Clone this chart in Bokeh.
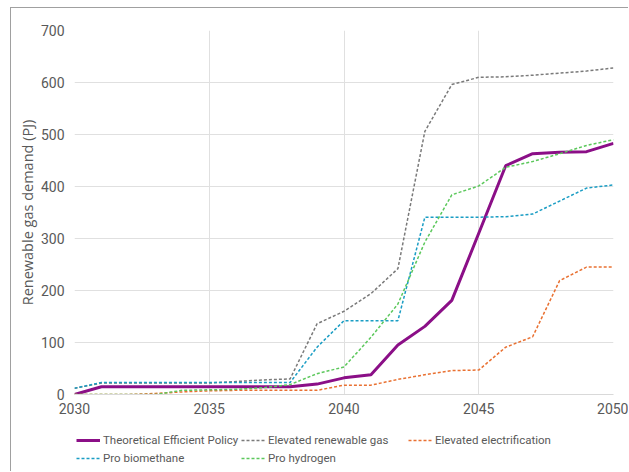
from bokeh.plotting import figure
from bokeh.models import Legend, LegendItem, FixedTicker, Range1d
from bokeh.layouts import column
from bokeh.embed import file_html
from bokeh.resources import INLINE

years = list(range(2030, 2051))

theoretical = [0, 15, 15, 15, 15, 15, 15, 15, 15, 20, 32, 38, 95, 131, 181, 310, 440, 463, 466, 467, 483]
elevated_gas = [12, 22, 22, 22, 22, 22, 25, 28, 30, 136, 160, 194, 242, 506, 596, 610, 611, 614, 618, 622, 628]
elevated_elec = [0, 0, 0, 2, 5, 7, 8, 8, 8, 8, 18, 18, 29, 38, 46, 47, 91, 111, 219, 245, 245]
pro_biomethane = [12, 23, 23, 23, 23, 23, 23, 23, 23, 91, 142, 142, 142, 341, 341, 341, 342, 347, 372, 397, 403]
pro_hydrogen = [0, 0, 0, 0, 8, 9, 10, 13, 19, 40, 53, 110, 174, 293, 384, 401, 437, 448, 463, 479, 490]

series_names = ["Theoretical Efficient Policy", "Elevated renewable gas", "Elevated electrification",
                "Pro biomethane", "Pro hydrogen"]
series_values = [theoretical, elevated_gas, elevated_elec, pro_biomethane, pro_hydrogen]

x_ticks = [2030, 2035, 2040, 2045, 2050]
y_ticks = [0, 100, 200, 300, 400, 500, 600, 700]

TFONT = "Roboto"
AFONT = "Open Sans"
LFONT = "Roboto"
TXT = "#595959"
styles = [
    dict(line_color="#8B0F87", line_width=3),
    dict(line_color="#7a7a7a", line_width=1.5, line_dash="3 2"),
    dict(line_color="#E97132", line_width=1.5, line_dash="3 2"),
    dict(line_color="#1A9DC4", line_width=1.5, line_dash="3 2"),
    dict(line_color="#5CC85C", line_width=1.5, line_dash="3 2"),
]

W = 617
p = figure(width=W, height=413, output_backend="svg", toolbar_location=None,
           x_range=Range1d(2030, 2050), y_range=Range1d(0, 700),
           min_border_left=63, min_border_right=15, min_border_top=22, min_border_bottom=27)
p.outline_line_color = None
p.border_fill_color = "white"

p.xaxis.ticker = FixedTicker(ticks=x_ticks)
p.yaxis.ticker = FixedTicker(ticks=y_ticks)
for ax in (p.xaxis[0], p.yaxis[0]):
    ax.major_label_text_font = TFONT
    ax.major_label_text_font_size = "14px"
    ax.major_label_text_color = TXT
    ax.major_tick_line_color = None
    ax.minor_tick_line_color = None
    ax.major_tick_out = 0
    ax.major_tick_in = 0
    ax.minor_tick_out = 0
    ax.minor_tick_in = 0
p.xaxis.axis_line_color = "#d9d9d9"
p.yaxis.axis_line_color = None
p.xaxis.major_label_standoff = 8
p.yaxis.major_label_standoff = 10
p.yaxis.axis_label = "Renewable gas demand (PJ)"
p.yaxis.axis_label_text_font = AFONT
p.yaxis.axis_label_text_font_size = "14.5px"
p.yaxis.axis_label_text_font_style = "normal"
p.yaxis.axis_label_text_color = TXT
p.yaxis.axis_label_standoff = 1
p.xgrid.grid_line_color = "#e0e0e0"
p.ygrid.grid_line_color = "#e0e0e0"

for vals, st in zip(series_values, styles):
    p.line(years, vals, **st)

# legend panel: same series, drawn outside its (unit) ranges so only the legend shows
lp = figure(width=W, height=50, output_backend="svg", toolbar_location=None,
            x_range=Range1d(0, 1), y_range=Range1d(0, 1),
            min_border_left=0, min_border_right=0, min_border_top=0, min_border_bottom=0)
lp.axis.visible = False
lp.grid.visible = False
lp.outline_line_color = None
lp.border_fill_color = "white"
items = []
for name, vals, st in zip(series_names, series_values, styles):
    r = lp.line(years, vals, **st)
    items.append(LegendItem(label=name, renderers=[r]))

columns = [([items[0], items[3]], (2, 6)), ([items[1], items[4]], (167, 6)), ([items[2]], (334, 24))]
for its, loc in columns:
    lg = Legend(items=its, orientation="vertical", location=loc)
    lg.label_text_font = LFONT
    lg.label_text_font_size = "11.5px"
    lg.label_text_color = TXT
    lg.glyph_width = 24
    lg.glyph_height = 14
    lg.label_standoff = 3
    lg.spacing = 4
    lg.padding = 0
    lg.margin = 0
    lg.label_height = 14
    lg.border_line_color = None
    lg.background_fill_alpha = 0
    lp.add_layout(lg, "center")

layout = column(p, lp, spacing=0,
                styles={"border-left": "1px solid #a0a0a0", "border-top": "1px solid #a0a0a0",
                        "margin-left": "10px", "margin-top": "7px"})

open("out.html", "w").write(file_html(layout, INLINE))
